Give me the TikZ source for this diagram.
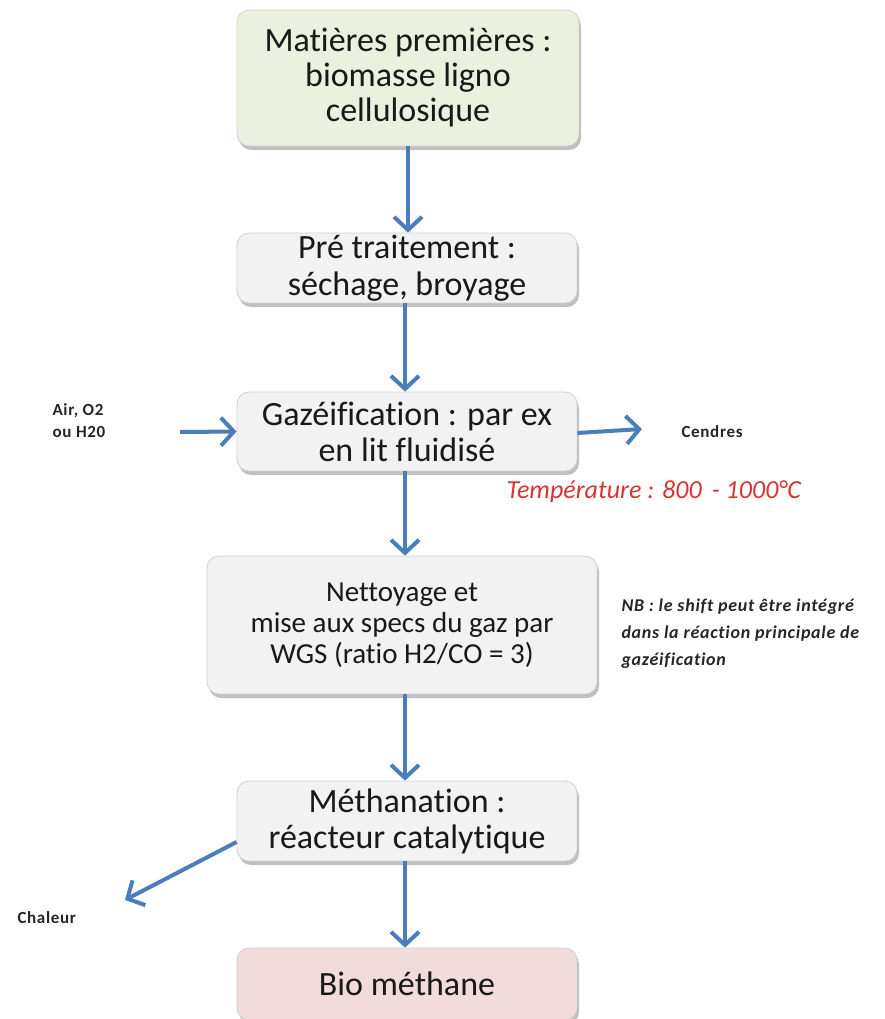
\documentclass[tikz,border=0pt]{standalone}
\usepackage{fontspec}
\setmainfont[Ligatures=CommonOff]{Carlito}
\usetikzlibrary{arrows.meta,shadows,calc}
\definecolor{flowblue}{RGB}{74,126,187}
\definecolor{boxgreen}{RGB}{235,241,222}
\definecolor{boxgray}{RGB}{242,242,242}
\definecolor{boxpink}{RGB}{242,220,219}
\definecolor{tempred}{RGB}{214,52,52}
\begin{document}
\begin{tikzpicture}[x=1pt,y=-1pt,
  stepbox/.style={draw=black!18, line width=0.8pt, rounded corners=12pt, fill=boxgray,
    align=center, inner sep=0pt, text=black!90,
    drop shadow={shadow xshift=2pt, shadow yshift=-4pt, fill=black!45, opacity=0.55}},
  bigtext/.style={font=\fontsize{34}{35}\selectfont},
  midtext/.style={font=\fontsize{29}{31}\selectfont},
  sidetext/.style={font=\bfseries\fontsize{17}{22}\selectfont\addfontfeature{LetterSpace=4}, align=left, text=black!85},
  flow/.style={draw=flowblue, line width=4pt,
    -{Straight Barb[length=13pt, width=28pt, line width=4pt]}}
]
\useasboundingbox (0,0) rectangle (885,1019);

% process steps
\node[stepbox, bigtext, fill=boxgreen, minimum width=342pt, minimum height=136pt]
  (raw) at (408,78) {Matières premières :\\biomasse ligno\\cellulosique};
\node[stepbox, font=\fontsize{34}{37}\selectfont, minimum width=340pt, minimum height=70pt]
  (pre) at (407,268) {Pré traitement :\\séchage, broyage};
\node[stepbox, font=\fontsize{34}{36}\selectfont, minimum width=340pt, minimum height=79pt]
  (gaz) at (407,431.5) {Gazéification : par ex\\en lit fluidisé};
\node[stepbox, midtext, minimum width=390pt, minimum height=138pt]
  (clean) at (402,625) {Nettoyage et\\mise aux specs du gaz par\\WGS (ratio H2/CO = 3)};
\node[stepbox, font=\fontsize{34}{36}\selectfont, minimum width=340pt, minimum height=80pt]
  (meth) at (407,821) {Méthanation :\\réacteur catalytique};
\node[stepbox, bigtext, fill=boxpink, minimum width=340pt, minimum height=72pt]
  (bio) at (407,984) {Bio méthane};

% side inputs and outputs
\node[sidetext, anchor=west] (air) at (49,421) {Air, O2\\ou H20};
\node[sidetext, anchor=west] (ash) at (678,432) {Cendres};
\node[sidetext, anchor=west] (heat) at (14,918) {Chaleur};
\node[font=\itshape\fontsize{26}{30}\selectfont, text=tempred, anchor=west]
  (temp) at (503,492) {Température : 800 \,- 1000°C};
\node[font=\bfseries\itshape\fontsize{18}{27}\selectfont\addfontfeature{LetterSpace=4}, text=black!85, align=left, anchor=north west]
  (nb) at (618,595) {NB : le shift peut être intégré\\dans la réaction principale de\\gazéification};

\coordinate (airend) at (180,432);
\coordinate (ashend) at (642,429);
\coordinate (heatend) at (125,900);

% connectors
\draw[flow] (raw.south -| 408,0) -- (pre.north -| 408,0);
\draw[flow] (pre.south -| 405,0) -- (gaz.north -| 405,0);
\draw[flow] (gaz.south -| 405,0) -- (clean.north -| 405,0);
\draw[flow] (clean.south -| 405,0) -- (meth.north -| 405,0);
\draw[flow] (meth.south -| 405,0) -- (bio.north -| 405,0);
\draw[flow] (airend) -- (gaz.west);
\draw[flow] (gaz.east |- 0,433) -- (ashend);
\draw[flow] (meth.west |- 0,842) -- (heatend);
\end{tikzpicture}
\end{document}
